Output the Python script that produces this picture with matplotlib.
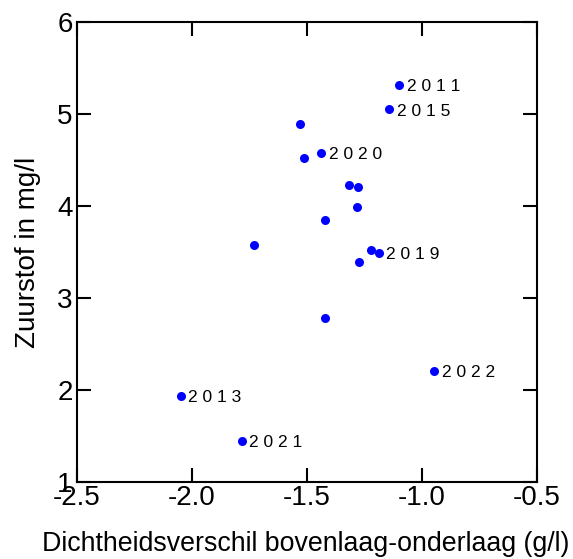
import matplotlib
matplotlib.use("Agg")
import matplotlib.pyplot as plt

plt.rcParams['font.family'] = ['Liberation Sans', 'DejaVu Sans']

# Data (density difference g/l, oxygen mg/l, label)
dichtheid = [-1.100, -1.142, -1.530, -1.512, -1.438, -1.316, -1.277, -1.284,
             -1.423, -1.730, -1.222, -1.188, -1.275, -1.420, -0.947, -2.049, -1.784]
zuurstof = [5.32, 5.05, 4.89, 4.52, 4.58, 4.23, 4.21, 3.99,
            3.85, 3.58, 3.52, 3.49, 3.39, 2.78, 2.21, 1.94, 1.45]
labels = ["2011", "2015", "", "", "2020", "", "", "",
          "", "", "", "2019", "", "", "2022", "2013", "2021"]

xticks = [-2.5, -2.0, -1.5, -1.0, -0.5]
yticks = [1, 2, 3, 4, 5, 6]

fig = plt.figure(figsize=(5.73, 5.59), dpi=100)
ax = fig.add_axes([77/573, 1 - 482/559, 460/573, 460/559])

ax.plot(dichtheid, zuurstof, 'o', color='#0000FF', markersize=6.5, markeredgewidth=0)
for x, y, lab in zip(dichtheid, zuurstof, labels):
    if lab:
        ax.annotate(" ".join(lab), (x, y), xytext=(5.5, -4.5), textcoords='offset points',
                    fontsize=12.5, va='baseline', ha='left', color='black')

ax.set_xlim(-2.5, -0.5)
ax.set_ylim(1, 6)
ax.set_xticks(xticks)
ax.set_xticklabels([f"{t:.1f}" for t in xticks])
ax.set_yticks(yticks)
ax.set_yticklabels([str(t) for t in yticks])

for s in ax.spines.values():
    s.set_linewidth(1.5)
ax.tick_params(direction='in', length=10, width=1.5, labelsize=20,
               top=True, right=True, pad=3)
ax.tick_params(axis='x', pad=2)

ax.set_xlabel("Dichtheidsverschil bovenlaag-onderlaag (g/l)", fontsize=19.3)
ax.xaxis.set_label_coords(0.497, -0.107, transform=ax.transAxes)
ax.xaxis.label.set_va('top')
ax.set_ylabel("Zuurstof in mg/l", fontsize=20, labelpad=12)

fig.savefig("out.png", dpi=100)
